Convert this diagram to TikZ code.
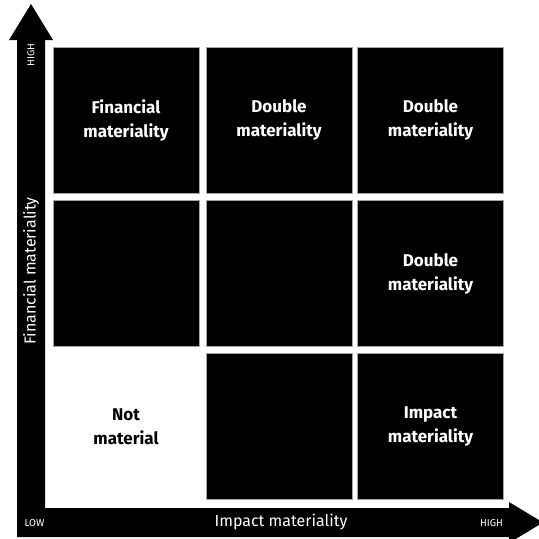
\documentclass[tikz,border=0pt]{standalone}
\usepackage{fontspec}
\setmainfont{Fira Sans}
\tikzset{
  cell/.style={fill=black,draw=black!35,line width=0.6pt,minimum size=146pt,inner sep=0pt,
    text=white,align=center,font=\fontsize{17}{24}\selectfont\bfseries},
  axislabel/.style={text=white,font=\fontsize{16}{18}\selectfont},
  tick/.style={text=white,font=\fontsize{10}{11}\selectfont},
}
\begin{document}
\begin{tikzpicture}[x=1pt,y=-1pt]
  \useasboundingbox (0,0) rectangle (539,539);
  % Axes
  \fill (17,537) -- (17,40) -- (9,40) -- (31,4) -- (53,40) -- (45,40) -- (45,508)
    -- (509,508) -- (509,502) -- (543,522.5) -- (509,543) -- (509,537) -- cycle;
  % Cells
  \node[cell] (fin) at (126,120) {Financial\\materiality};
  \node[cell] (dbltop) at (279,120) {Double\\materiality};
  \node[cell] (dblcorner) at (430.5,120) {Double\\materiality};
  \node[cell] (midleft) at (126,273.5) {};
  \node[cell] (mid) at (279,273.5) {};
  \node[cell] (dblright) at (430.5,273.5) {Double\\materiality};
  \node[cell,fill=white,draw=none,text=black] (notmat) at (126,426.5) {Not\\material};
  \node[cell] (lowmid) at (279,426.5) {};
  \node[cell] (impact) at (430.5,426.5) {Impact\\materiality};
  % Labels
  \node[axislabel] (xlabel) at (281,522) {Impact materiality};
  \node[axislabel,rotate=90] (ylabel) at (31,271) {Financial materiality};
  \node[tick] (xlow) at (34.5,523) {LOW};
  \node[tick] (xhigh) at (491.5,523) {HIGH};
  \node[tick,rotate=90] (yhigh) at (31,55) {HIGH};
\end{tikzpicture}
\end{document}
